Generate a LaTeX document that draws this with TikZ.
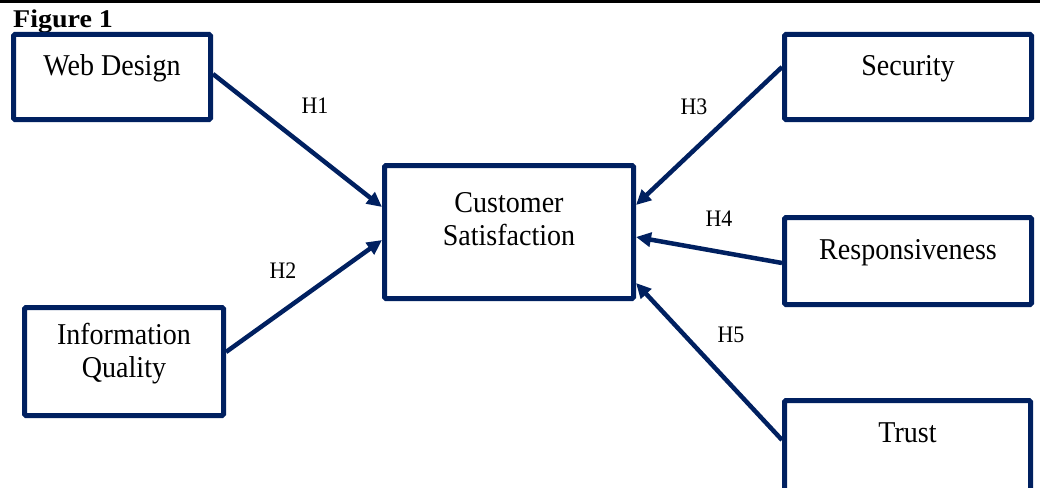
\documentclass[tikz,border=0pt]{standalone}
\usepackage{fontspec}
\setmainfont{Liberation Serif}
\usetikzlibrary{arrows.meta,calc}
\definecolor{navy}{RGB}{0,32,96}
\newcommand{\ys}[1]{\scalebox{1.02}[1.1]{#1}}
\begin{document}
\begin{tikzpicture}[x=1pt,y=-1pt,
  box/.style={draw=navy, line width=5pt, rounded corners=1.5pt, inner sep=0pt, fill=white},
  txt/.style={font=\fontsize{27.5}{33}\selectfont, align=center, inner sep=0pt},
  hyp/.style={font=\fontsize{21.5}{24}\selectfont, inner sep=0pt, anchor=base},
  arr/.style={draw=navy, line width=4.5pt, -{Triangle[length=15pt,width=14pt]}}]
\useasboundingbox (0,0) rectangle (1040,487);
\clip (0,0) rectangle (1040,487);
\fill[black] (0,0) rectangle (1040,3.5);
\node[anchor=base west, inner sep=0pt, font=\bfseries\fontsize{25}{28}\selectfont] (fig) at (13,28) {\scalebox{1.12}[1.02]{Figure 1}};
% boxes
\node[box, minimum width=197pt, minimum height=85pt] (wd) at (112,77) {};
\node[box, minimum width=199pt, minimum height=108pt] (iq) at (124,361.5) {};
\node[box, minimum width=249pt, minimum height=133pt] (cs) at (509,232) {};
\node[box, minimum width=247pt, minimum height=85pt] (sec) at (908,77) {};
\node[box, minimum width=247pt, minimum height=87pt] (resp) at (908,261) {};
\node[box, minimum width=246pt, minimum height=91pt] (tr) at (907.5,446) {};
% texts
\node[txt, anchor=base] (wdT) at (112,75) {\ys{Web Design}};
\node[txt] (iqT) at (124,353.6) {\ys{Information}\\\ys{Quality}};
\node[txt] (csT) at (509,219.3) {\ys{Customer}\\\ys{Satisfaction}};
\node[txt, anchor=base] (secT) at (908,75) {\ys{Security}};
\node[txt, anchor=base] (respT) at (908,259) {\ys{Responsiveness}};
\node[txt, anchor=base] (trT) at (907.5,442) {\ys{Trust}};
% connectors
\draw[arr] ([yshift=3pt]wd.east) -- ([yshift=25pt]cs.west);
\draw[arr] ([yshift=9.5pt]iq.east) -- ([yshift=-8pt]cs.west);
\draw[arr] ([yshift=10pt]sec.west) -- ([yshift=27pt]cs.east);
\draw[arr] ([yshift=-2pt]resp.west) -- ([yshift=-5pt]cs.east);
\draw[arr] ([yshift=6pt]tr.west) -- ([yshift=-51pt]cs.east);
% labels
\node[hyp] (h1) at (315,113) {\ys{H1}};
\node[hyp] (h2) at (283,278) {\ys{H2}};
\node[hyp] (h3) at (694,114) {\ys{H3}};
\node[hyp] (h4) at (719,226) {\ys{H4}};
\node[hyp] (h5) at (731,342) {\ys{H5}};
\end{tikzpicture}
\end{document}
